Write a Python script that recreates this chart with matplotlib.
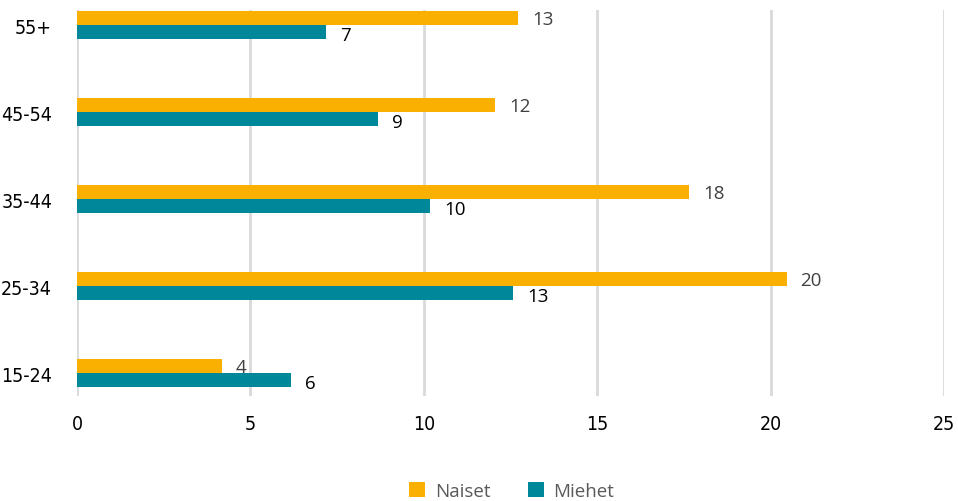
import matplotlib
matplotlib.use("Agg")
from matplotlib import pyplot as plt
import numpy as np

# data
categories = ["15-24", "25-34", "35-44", "45-54", "55+"]
naiset = [4.18, 20.46, 17.65, 12.05, 12.72]
miehet = [6.17, 12.57, 10.18, 8.67, 7.19]
naiset_labels = ["4", "20", "18", "12", "13"]
miehet_labels = ["6", "13", "10", "9", "7"]

orange = "#F9B000"
teal = "#00879A"

fig = plt.figure(figsize=(9.58, 5.02), dpi=100, facecolor="w")
ax = fig.add_axes([0.0804, 0.209, 0.905, 0.769])

y = np.arange(len(categories))
h = 0.165

ax.barh(y + h / 2, naiset, height=h, color=orange, label="Naiset", zorder=3)
ax.barh(y - h / 2, miehet, height=h, color=teal, label="Miehet", zorder=3)

# value labels
for i in range(len(categories)):
    ax.annotate(naiset_labels[i], (naiset[i], y[i] + h / 2), xytext=(10, -1),
                textcoords="offset points", ha="left", va="center",
                fontsize=13.5, color="#404040", family=["Open Sans", "DejaVu Sans"])
    ax.annotate(miehet_labels[i], (miehet[i], y[i] - h / 2), xytext=(10, -2),
                textcoords="offset points", ha="left", va="center",
                fontsize=13.5, color="black", family=["Open Sans", "DejaVu Sans"])

ax.set_xlim(0, 25)
ax.set_ylim(-0.264, 4.172)
ax.set_xticks(np.arange(0, 26, 5))
ax.set_yticks(y)
ax.set_yticklabels(categories)

for lbl in ax.get_xticklabels() + ax.get_yticklabels():
    lbl.set_family(["DejaVu Sans"])
    lbl.set_stretch("condensed")
    lbl.set_fontsize(14)
    lbl.set_color("black")

ax.tick_params(axis="both", length=0)
ax.tick_params(axis="x", pad=13)
ax.tick_params(axis="y", pad=18)
ax.grid(axis="x", color="#D9D9D9", linewidth=2, zorder=0)
for s in ax.spines.values():
    s.set_visible(False)

leg = fig.legend(loc="center", bbox_to_anchor=(0.534, 0.02), ncol=2, frameon=False,
                 handlelength=0.85, handleheight=0.85, columnspacing=2.0, handletextpad=0.5,
                 prop={"family": ["Open Sans", "DejaVu Sans"], "size": 13.5})
for t in leg.get_texts():
    t.set_color("#595959")

plt.savefig("out.png", dpi=100)
